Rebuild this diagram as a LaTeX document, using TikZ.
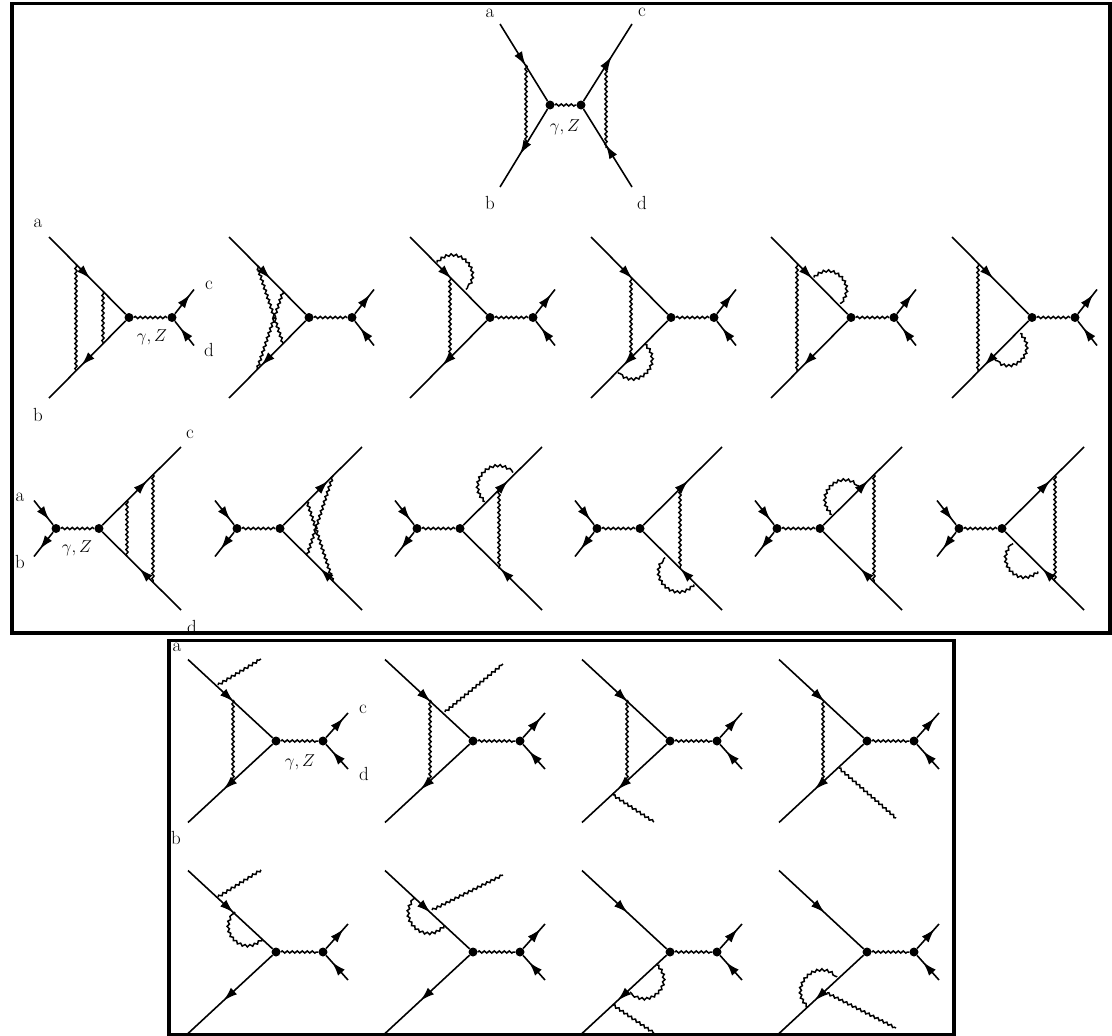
\documentclass[tikz,border=0pt]{standalone}
\usetikzlibrary{arrows.meta,calc,decorations.markings,decorations.pathmorphing}
\tikzset{
  vtx/.style={circle,fill=black,inner sep=0pt,minimum size=9pt},
  lab/.style={inner sep=0pt,font=\fontsize{19}{20}\selectfont},
  frameline/.style={line width=3.6pt},
  fermion/.style={line width=1.6pt,postaction={decorate},decoration={markings,
      mark=at position #1 with {\arrow{Latex[length=14pt,width=9pt]}}}},
  photon/.style={line width=1.5pt,decorate,
    decoration={snake,amplitude=1.1pt,segment length=5pt}},
}
\newcommand{\bond}[2]{\coordinate (ps) at (#1); \coordinate (pt) at (#2);
  \draw[photon] (ps) -- (pt);}
\newcommand{\selfen}[2]{\coordinate (ps) at (#1); \coordinate (pt) at (#2);
  \draw[photon] (ps) .. controls ($(ps)!.667!90:(pt)$) and ($(pt)!.667!-90:(ps)$) .. (pt);}
\newcommand{\fanright}[4]{
  \node[vtx] (vl) at (0,0) {};
  \node[vtx] (vr) at (#3,0) {};
  \coordinate (ea) at (-#1,-#2);
  \coordinate (eb) at (-#1,#2);
  \coordinate (ec) at ($(vr)+(#4,-28)$);
  \coordinate (ed) at ($(vr)+(#4,28)$);
  \draw[fermion=.54] (ea) -- (vl);
  \draw[fermion=.58] (vl) -- (eb);
  \draw[photon] (vl) -- (vr);
  \draw[fermion=.8] (vr) -- (ec);
  \draw[fermion=.73] (ed) -- (vr);
}
\newcommand{\fanleft}[4]{
  \node[vtx] (vr) at (0,0) {};
  \node[vtx] (vl) at (-#3,0) {};
  \coordinate (ec) at (#1,-#2);
  \coordinate (ed) at (#1,#2);
  \coordinate (ea) at ($(vl)+(-#4,-28)$);
  \coordinate (eb) at ($(vl)+(-#4,28)$);
  \draw[fermion=.57] (vr) -- (ec);
  \draw[fermion=.53] (ed) -- (vr);
  \draw[photon] (vl) -- (vr);
  \draw[fermion=.8] (ea) -- (vl);
  \draw[fermion=.7] (vl) -- (eb);
}
\begin{document}
\begin{tikzpicture}[x=1pt,y=-1pt,font=\fontsize{16}{18}\selectfont]
  \useasboundingbox (0,0) rectangle (1112,1036);
  \node[vtx] (topl) at (550,105) {};
  \node[vtx] (topr) at (581,105) {};
  \coordinate (topa) at (500,24);
  \coordinate (topb) at (500,187);
  \coordinate (topc) at (632,24);
  \coordinate (topd) at (632,187);
  \draw[fermion=.54] (topa) -- (topl);
  \draw[fermion=.58] (topl) -- (topb);
  \draw[fermion=.58] (topr) -- (topc);
  \draw[fermion=.54] (topd) -- (topr);
  \draw[photon] (topl) -- (topr);
  \bond{526,65}{526,148}
  \bond{606,65}{606,148}
  \foreach \x/\extra in {
    129/{\bond{-53,-53}{-53,53} \bond{-26,-26}{-26,26}},
    309/{\bond{-52,-52}{-26,26} \bond{-26,-26}{-52,52}},
    490/{\bond{-40,-40}{-40,40} \selfen{-53,-55}{-24,-28}},
    671/{\bond{-40,-40}{-40,40} \selfen{-26,27}{-53,55}},
    851/{\bond{-54,-54}{-54,54} \selfen{-37,-40}{-11,-14}},
    1032/{\bond{-54,-54}{-54,54} \selfen{-12,16}{-37,42}}}{
    \begin{scope}[shift={(\x,317.5)}]
      \fanright{80}{80.5}{43}{22}
      \extra
    \end{scope}
  }
  \foreach \x/\extra in {
    99/{\bond{28,-28}{28,28} \bond{54,-54}{54,54}},
    280/{\bond{27,-27}{53,53} \bond{27,27}{53,-53}},
    460/{\bond{39,-40}{39,40} \selfen{25,-27}{53,-56}},
    640/{\bond{40,-40}{40,40} \selfen{54,56}{25,29}},
    820/{\bond{54,-54}{54,54} \selfen{12,-14}{39,-42}},
    1002/{\bond{53,-53}{53,53} \selfen{36,43}{11,15}}}{
    \begin{scope}[shift={(\x,528.5)}]
      \fanleft{82}{81.5}{43}{22}
      \extra
    \end{scope}
  }
  \foreach \x/\extra in {
    276/{\bond{-43,-41}{-43,41} \bond{-58,-56}{-15,-82}},
    473/{\bond{-43,-41}{-43,41} \bond{-28,-29}{30,-77}},
    670/{\bond{-43,-41}{-43,41} \bond{-57,54}{-16,81}},
    867/{\bond{-44,-41}{-44,41} \bond{-28,27}{29,77}}}{
    \begin{scope}[shift={(\x,741)}]
      \fanright{88}{81.5}{47}{25}
      \extra
    \end{scope}
  }
  \foreach \x/\extra in {
    276/{\bond{-58,-55}{-15,-82} \selfen{-14,-13}{-41,-40}},
    473/{\bond{-41,-42}{30,-77} \selfen{-29,-26}{-58,-54}},
    670/{\bond{-57,53}{-16,81} \selfen{-13,13}{-40,40}},
    867/{\bond{-40,41}{29,76} \selfen{-59,55}{-30,25}}}{
    \begin{scope}[shift={(\x,952)}]
      \fanright{88}{81.5}{47}{25}
      \extra
    \end{scope}
  }
  \node[lab] (la0) at (490,13) {a};
  \node[lab] (lb0) at (490,203) {b};
  \node[lab] (lc0) at (642,12) {c};
  \node[lab] (ld0) at (642,203) {d};
  \node[inner sep=0pt] (lz0) at (565,127) {$\gamma,Z$};
  \node[lab] (la1) at (38,223) {a};
  \node[lab] (lb1) at (38,415) {b};
  \node[lab] (lc1) at (209,285) {c};
  \node[lab] (ld1) at (209,350) {d};
  \node[inner sep=0pt] (lz1) at (152,337) {$\gamma,Z$};
  \node[lab] (la2) at (20,497) {a};
  \node[lab] (lb2) at (20,562) {b};
  \node[lab] (lc2) at (190,434) {c};
  \node[lab] (ld2) at (192,627) {d};
  \node[inner sep=0pt] (lz2) at (77,548) {$\gamma,Z$};
  \node[lab] (la3) at (177,647) {a};
  \node[lab] (lb3) at (176,838) {b};
  \node[lab] (lc3) at (363,709) {c};
  \node[lab] (ld3) at (364,774) {d};
  \node[inner sep=0pt] (lz3) at (300,762) {$\gamma,Z$};
  \draw[frameline] (12,3.5) rectangle (1110,633);
  \draw[frameline] (169,640.5) rectangle (954,1034.5);
\end{tikzpicture}
\end{document}
